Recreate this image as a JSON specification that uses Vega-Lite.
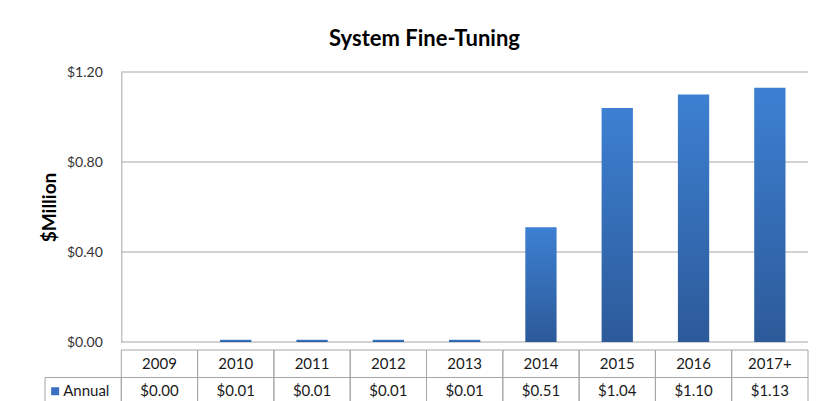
{
  "$schema": "https://vega.github.io/schema/vega-lite/v6.json",
  "background": "white",
  "padding": {"left": 40, "top": 28, "right": 0, "bottom": 0},
  "datasets": {
    "d": [
      {"year": "2009", "value": 0},
      {"year": "2010", "value": 0.01},
      {"year": "2011", "value": 0.01},
      {"year": "2012", "value": 0.01},
      {"year": "2013", "value": 0.01},
      {"year": "2014", "value": 0.51},
      {"year": "2015", "value": 1.04},
      {"year": "2016", "value": 1.10},
      {"year": "2017+", "value": 1.13}
    ]
  },
  "title": {
    "text": "System Fine-Tuning",
    "font": "Lato",
    "fontSize": 22,
    "fontWeight": "bold",
    "color": "#000000",
    "anchor": "middle",
    "offset": 14
  },
  "spacing": 0,
  "resolve": {"scale": {"x": "independent", "y": "independent"}},
  "vconcat": [
    {
      "width": 763,
      "height": 270,
      "layer": [
        {
          "data": {"values": [{"g": 0}, {"g": 0.4}, {"g": 0.8}, {"g": 1.2}]},
          "mark": {"type": "rule", "color": "#a6a6a6", "strokeWidth": 1},
          "encoding": {
            "y": {"field": "g", "type": "quantitative", "scale": {"domain": [0, 1.2]}},
            "x": {
              "datum": "2009",
              "type": "nominal",
              "bandPosition": 0,
              "scale": {"domain": ["Annual", "2009", "2010", "2011", "2012", "2013", "2014", "2015", "2016", "2017+"], "paddingInner": 0, "paddingOuter": 0},
              "axis": null
            },
            "x2": {"value": "width"}
          }
        },
        {
          "data": {"name": "d"},
          "mark": {
            "type": "bar",
            "width": {"band": 0.41},
            "color": {
              "gradient": "linear",
              "x1": 0, "y1": 0, "x2": 0, "y2": 1,
              "stops": [
                {"offset": 0, "color": "#3d80d2"},
                {"offset": 1, "color": "#2c5a99"}
              ]
            }
          },
          "encoding": {
            "x": {
              "field": "year",
              "type": "nominal",
              "sort": null,
              "scale": {"domain": ["Annual", "2009", "2010", "2011", "2012", "2013", "2014", "2015", "2016", "2017+"], "paddingInner": 0, "paddingOuter": 0},
              "axis": null
            },
            "y": {
              "field": "value",
              "type": "quantitative",
              "scale": {"domain": [0, 1.2]},
              "axis": {
                "values": [0, 0.4, 0.8, 1.2],
                "format": "$.2f",
                "title": "$Million",
                "grid": false,
                "ticks": false,
                "domain": true,
                "domainColor": "#a6a6a6",
                "offset": -76.3,
                "labelPadding": 19,
                "labelFont": "Lato",
                "labelFontSize": 14,
                "labelColor": "#333333",
                "titleFont": "Lato",
                "titleFontSize": 19,
                "titleFontWeight": "bold",
                "titleColor": "#000000",
                "titlePadding": 7
              }
            }
          }
        }
      ]
    },
    {
      "width": 763,
      "height": 55,
      "layer": [
        {
          "data": {"name": "d"},
          "mark": {"type": "rect", "fill": "white", "fillOpacity": 0, "stroke": "#a6a6a6", "strokeWidth": 1},
          "encoding": {
            "x": {"field": "year", "type": "nominal", "scale": {"domain": ["Annual", "2009", "2010", "2011", "2012", "2013", "2014", "2015", "2016", "2017+"], "paddingInner": 0, "paddingOuter": 0}, "axis": null},
            "y": {"datum": "year", "type": "nominal", "scale": {"domain": ["year", "Annual"], "paddingInner": 0, "paddingOuter": 0}, "axis": null}
          }
        },
        {
          "data": {"name": "d"},
          "mark": {"type": "rect", "fill": "white", "fillOpacity": 0, "stroke": "#a6a6a6", "strokeWidth": 1},
          "encoding": {
            "x": {"field": "year", "type": "nominal", "axis": null},
            "y": {"datum": "Annual", "type": "nominal", "axis": null}
          }
        },
        {
          "data": {"values": [{"label": "Annual"}]},
          "mark": {"type": "rect", "fill": "white", "fillOpacity": 0, "stroke": "#a6a6a6", "strokeWidth": 1},
          "encoding": {
            "x": {"field": "label", "type": "nominal", "axis": null},
            "y": {"datum": "Annual", "type": "nominal", "axis": null}
          }
        },
        {
          "data": {"name": "d"},
          "mark": {"type": "text", "font": "Lato", "fontSize": 15, "color": "#1a1a1a", "baseline": "middle"},
          "encoding": {
            "x": {"field": "year", "type": "nominal", "axis": null},
            "y": {"datum": "year", "type": "nominal", "axis": null},
            "text": {"field": "year"}
          }
        },
        {
          "data": {"name": "d"},
          "mark": {"type": "text", "font": "Lato", "fontSize": 15, "color": "#1a1a1a", "baseline": "middle"},
          "encoding": {
            "x": {"field": "year", "type": "nominal", "axis": null},
            "y": {"datum": "Annual", "type": "nominal", "axis": null},
            "text": {"field": "value", "format": "$.2f"}
          }
        },
        {
          "data": {"values": [{"label": "Annual"}]},
          "mark": {"type": "text", "font": "Lato", "fontSize": 15, "color": "#1a1a1a", "baseline": "middle", "align": "left", "dx": -20},
          "encoding": {
            "x": {"field": "label", "type": "nominal", "axis": null},
            "y": {"datum": "Annual", "type": "nominal", "axis": null},
            "text": {"field": "label"}
          }
        },
        {
          "data": {"values": [{"label": "Annual"}]},
          "mark": {"type": "point", "shape": "square", "filled": true, "size": 64, "color": "#3a70c0", "opacity": 1, "xOffset": -28},
          "encoding": {
            "x": {"field": "label", "type": "nominal", "axis": null},
            "y": {"datum": "Annual", "type": "nominal", "axis": null}
          }
        }
      ]
    }
  ],
  "config": {
    "view": {"stroke": null},
    "font": "Lato"
  }
}
